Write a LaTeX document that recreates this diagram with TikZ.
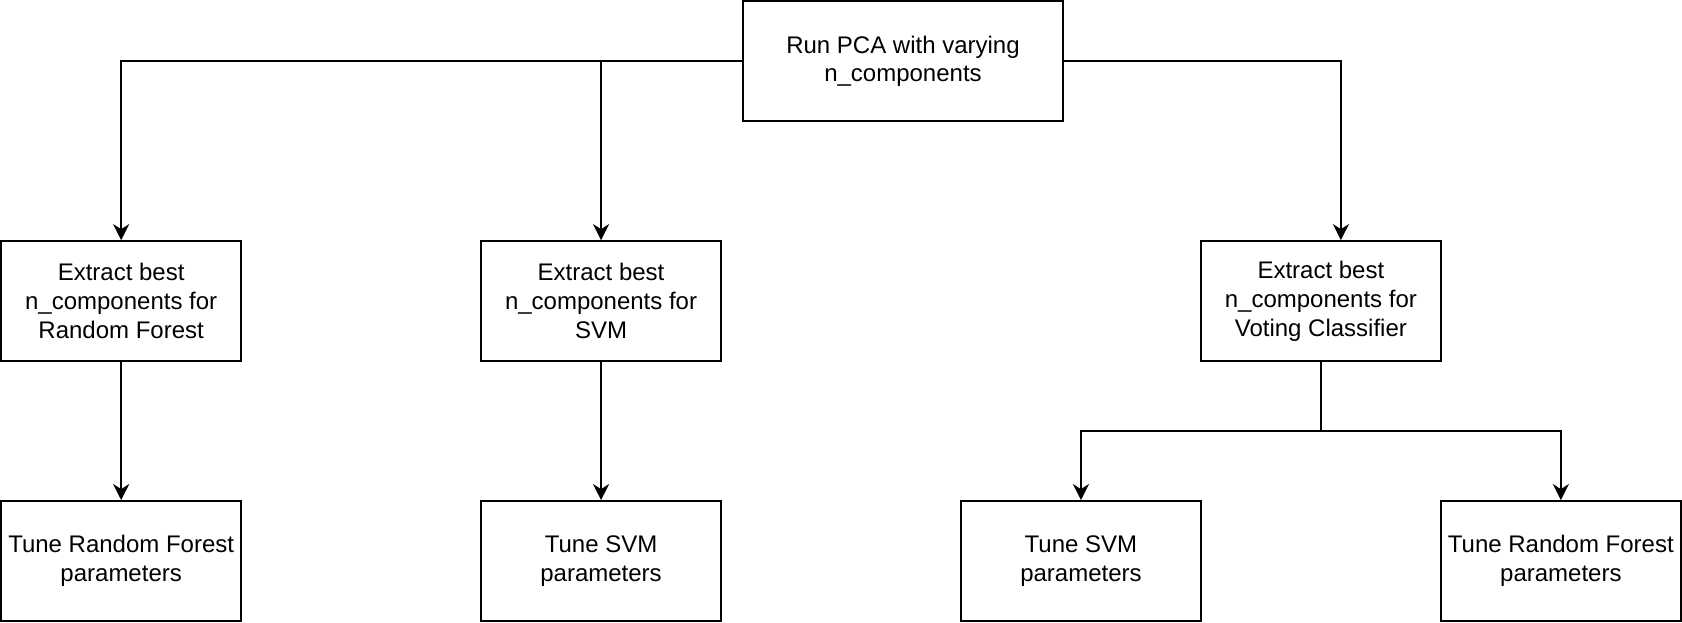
\documentclass[tikz,border=0pt]{standalone}
\usepackage{fontspec}
\setmainfont{Liberation Sans}
\usetikzlibrary{arrows.meta}

\begin{document}
\begin{tikzpicture}[x=1pt,y=1pt,line width=1pt]
\tikzstyle{box}=[draw,black,rectangle,minimum width=120,minimum height=60,inner sep=0pt,align=center,font=\fontsize{12}{14.4}\selectfont]
\tikzstyle{arr}=[-{Stealth[length=8,width=8,inset=2.5]}]
\useasboundingbox (-0.6,0.6) rectangle (840.6,-310.6);
\node [box,minimum width=160] (pca) at (451,-30) {Run PCA with varying\\n\_components};
\node [box] (rf) at (60,-150) {Extract best\\n\_components for\\Random Forest};
\node [box] (svm) at (300,-150) {Extract best\\n\_components for\\SVM};
\node [box] (vc) at (660,-150) {Extract best\\n\_components for\\Voting Classifier};
\node [box] (trf) at (60,-280) {Tune Random Forest\\parameters};
\node [box] (tsvm) at (300,-280) {Tune SVM\\parameters};
\node [box] (vsvm) at (540,-280) {Tune SVM\\parameters};
\node [box] (vrf) at (780,-280) {Tune Random Forest\\parameters};
\coordinate (fork) at (660,-215);
\draw [arr] (pca.west) -| (rf.north);
\draw [arr] (pca.west) -| (svm.north);
\draw [arr] (pca.east) -| ([xshift=10]vc.north);
\draw [arr] (rf) -- (trf);
\draw [arr] (svm) -- (tsvm);
\draw (vc.south) -- (fork);
\draw [arr] (fork) -| (vsvm.north);
\draw [arr] (fork) -| (vrf.north);
\end{tikzpicture}
\end{document}
